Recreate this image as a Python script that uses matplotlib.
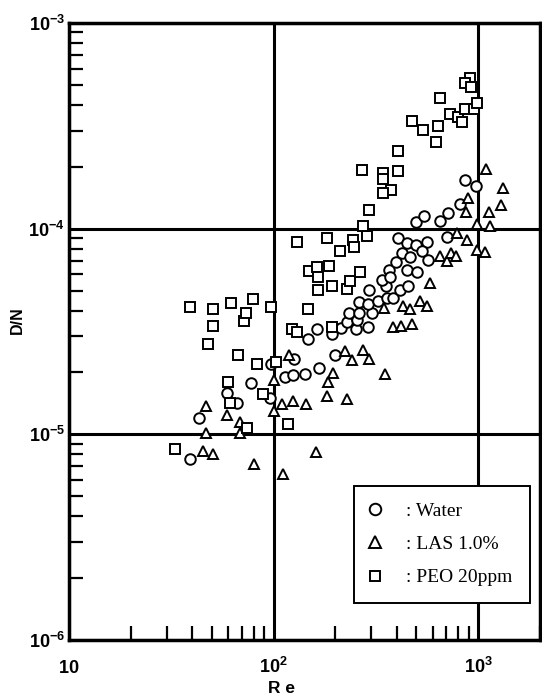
import matplotlib
matplotlib.use('Agg')
import matplotlib.pyplot as plt
from matplotlib.ticker import FixedLocator, FixedFormatter, NullFormatter, LogLocator
from matplotlib.lines import Line2D

plt.rcParams['font.family'] = ['Liberation Sans', 'DejaVu Sans']
plt.rcParams['mathtext.fontset'] = 'custom'
plt.rcParams['mathtext.rm'] = 'Liberation Sans:bold'
plt.rcParams['mathtext.bf'] = 'Liberation Sans:bold'
plt.rcParams['mathtext.it'] = 'Liberation Sans:bold'

# ---------------- data ----------------
water_re = [39.1, 43.4, 59.2, 66.3, 77.4, 96.1, 97.2, 113.8, 124.6, 126.0,
            142.6, 166.0, 199.8, 147.5, 163.2, 192.6, 212.6, 227.5, 233.9, 253.2,
            290.8, 256.9, 261.8, 302.1, 261.8, 290.8, 322.6, 357.7, 385.3, 294.1,
            352.9, 414.1, 456.2, 338.1, 365.0, 371.3, 397.2, 448.0, 503.0, 425.0,
            465.0, 407.6, 451.1, 499.1, 561.4, 530.5, 569.6, 497.4, 544.4, 652.0,
            703.0, 715.8, 816.6, 863.8, 977.7]
water_dn = [7.55e-6, 1.20e-5, 1.585e-5, 1.416e-5, 1.77e-5, 1.498e-5, 2.19e-5, 1.90e-5, 1.945e-5, 2.32e-5,
            1.966e-5, 2.10e-5, 2.43e-5, 2.92e-5, 3.24e-5, 3.08e-5, 3.28e-5, 3.50e-5, 3.91e-5, 3.24e-5,
            3.32e-5, 3.60e-5, 3.90e-5, 3.90e-5, 4.42e-5, 4.28e-5, 4.45e-5, 4.59e-5, 4.59e-5, 5.06e-5,
            5.25e-5, 5.04e-5, 5.24e-5, 5.63e-5, 6.30e-5, 5.80e-5, 6.85e-5, 6.28e-5, 6.18e-5, 7.62e-5,
            7.31e-5, 8.98e-5, 8.52e-5, 8.33e-5, 8.64e-5, 7.79e-5, 7.05e-5, 1.081e-4, 1.152e-4, 1.094e-4,
            9.14e-5, 1.196e-4, 1.318e-4, 1.724e-4, 1.613e-4]

las_re = [45.4, 50.8, 46.8, 46.8, 59.0, 68.8, 68.3, 80.3, 110.9, 100.0,
          100.6, 109.7, 118.4, 124.1, 144.7, 161.4, 182.0, 228.0, 185.3, 194.8,
          223.7, 242.0, 274.0, 294.1, 351.0, 347.0, 382.7, 418.8, 474.0, 428.4,
          465.0, 520.5, 561.4, 582.6, 652.0, 703.0, 733.8, 780.4, 786.6, 886.6,
          985.4, 1082, 873.6, 896.6, 985.4, 1145, 1136, 1296, 1330, 1094]
las_dn = [8.30e-6, 8.00e-6, 1.016e-5, 1.367e-5, 1.243e-5, 1.142e-5, 1.019e-5, 7.18e-6, 6.42e-6, 1.30e-5,
          1.838e-5, 1.397e-5, 2.43e-5, 1.453e-5, 1.397e-5, 8.24e-6, 1.528e-5, 1.486e-5, 1.788e-5, 1.977e-5,
          2.54e-5, 2.30e-5, 2.57e-5, 2.33e-5, 1.966e-5, 4.10e-5, 3.32e-5, 3.37e-5, 3.44e-5, 4.21e-5,
          4.06e-5, 4.47e-5, 4.21e-5, 5.43e-5, 7.37e-5, 6.97e-5, 7.62e-5, 7.37e-5, 9.56e-5, 8.81e-5,
          7.88e-5, 7.70e-5, 1.209e-4, 1.402e-4, 1.054e-4, 1.031e-4, 1.206e-4, 1.303e-4, 1.582e-4, 1.945e-4]

peo_re = [33.0, 74.2, 118.1, 61.6, 59.9, 88.9, 67.4, 82.8, 102.3, 47.8,
          50.6, 71.7, 73.4, 39.1, 50.6, 62.3, 79.1, 96.7, 122.5, 129.6,
          146.7, 192.6, 129.6, 183.3, 211.4, 149.7, 163.8, 187.5, 164.2, 164.2,
          193.3, 228.0, 236.6, 264.8, 245.6, 247.5, 285.0, 294.1, 273.1, 270.0,
          344.3, 344.3, 374.2, 342.0, 407.6, 407.6, 473.0, 536.5, 639.6, 619.7,
          652.0, 729.6, 801.0, 832.3, 863.8, 955.8, 988.8, 913.8, 863.8, 921.0]
peo_dn = [8.46e-6, 1.070e-5, 1.119e-5, 1.426e-5, 1.788e-5, 1.577e-5, 2.43e-5, 2.19e-5, 2.25e-5, 2.74e-5,
          3.37e-5, 3.56e-5, 3.89e-5, 4.15e-5, 4.06e-5, 4.37e-5, 4.57e-5, 4.16e-5, 3.24e-5, 3.15e-5,
          4.08e-5, 3.33e-5, 8.64e-5, 8.98e-5, 7.82e-5, 6.23e-5, 6.49e-5, 6.62e-5, 5.82e-5, 5.06e-5,
          5.26e-5, 5.07e-5, 5.59e-5, 6.18e-5, 8.78e-5, 8.19e-5, 9.21e-5, 1.226e-4, 1.036e-4, 1.930e-4,
          1.858e-4, 1.738e-4, 1.542e-4, 1.486e-4, 2.39e-4, 1.908e-4, 3.34e-4, 3.02e-4, 3.14e-4, 2.65e-4,
          4.30e-4, 3.61e-4, 3.48e-4, 3.31e-4, 3.81e-4, 3.81e-4, 4.08e-4, 5.38e-4, 5.13e-4, 4.87e-4]

x_ticks = [10, 100, 1000]
x_ticklabels = [r'$\mathbf{10}$', r'$\mathbf{10^{2}}$', r'$\mathbf{10^{3}}$']
y_ticks = [1e-6, 1e-5, 1e-4, 1e-3]
y_ticklabels = [r'$\mathbf{10^{-6}}$', r'$\mathbf{10^{-5}}$', r'$\mathbf{10^{-4}}$', r'$\mathbf{10^{-3}}$']
legend_labels = [': Water', ': LAS 1.0%', ': PEO 20ppm']

# ---------------- figure ----------------
fig = plt.figure(figsize=(5.42, 6.99), dpi=100)
ax = fig.add_axes([0.1273, 0.0844, 0.8683, 0.8827])
ax.set_xscale('log')
ax.set_yscale('log')
ax.set_xlim(10, 2000)
ax.set_ylim(1e-6, 1e-3)

ax.xaxis.set_major_locator(FixedLocator(x_ticks))
ax.xaxis.set_major_formatter(FixedFormatter(x_ticklabels))
ax.yaxis.set_major_locator(FixedLocator(y_ticks))
ax.yaxis.set_major_formatter(FixedFormatter(y_ticklabels))
ax.xaxis.set_minor_locator(LogLocator(base=10, subs=range(2, 10)))
ax.yaxis.set_minor_locator(LogLocator(base=10, subs=range(2, 10)))
ax.xaxis.set_minor_formatter(NullFormatter())
ax.yaxis.set_minor_formatter(NullFormatter())

ax.grid(True, which='major', color='black', linewidth=2.2, zorder=1)
ax.set_axisbelow(True)

ax.tick_params(which='both', direction='in', top=False, right=False, colors='black')
ax.tick_params(which='major', length=12, width=2)
ax.tick_params(which='minor', length=10, width=1.6)
ax.tick_params(axis='x', which='major', pad=24, labelsize=13)
ax.tick_params(axis='y', which='major', pad=3, labelsize=13)
for lab in ax.get_xticklabels():
    lab.set_verticalalignment('baseline')

for s in ax.spines.values():
    s.set_linewidth(2.5)
    s.set_color('black')

mk = dict(linestyle='none', markerfacecolor='white', markeredgecolor='black',
          markeredgewidth=1.4, zorder=3)
ax.plot(water_re, water_dn, marker='o', markersize=7.6, **mk)
ax.plot(las_re, las_dn, marker='^', markersize=6.6, **mk)
ax.plot(peo_re, peo_dn, marker='s', markersize=6.6, **mk)

handles = [Line2D([], [], marker='o', markersize=8.3, **mk),
           Line2D([], [], marker='^', markersize=8.6, **mk),
           Line2D([], [], marker='s', markersize=7.8, **mk)]
leg = ax.legend(handles, legend_labels, loc='lower left',
                bbox_to_anchor=(0.6056, 0.06, 0.374, 0.2), mode='expand',
                prop={'family': ['Liberation Serif', 'DejaVu Serif'], 'size': 14},
                frameon=True, fancybox=False, framealpha=1, edgecolor='black',
                borderpad=0.85, labelspacing=0.8, handlelength=0.5, handletextpad=1.3,
                borderaxespad=0)
leg.get_frame().set_linewidth(1.4)
leg.set_zorder(5)

ax.set_xlabel('R e', fontsize=12.5, fontweight='bold')
ax.xaxis.set_label_coords(0.4526, -0.0665)
ax.set_ylabel('D/N', fontsize=11.5, fontweight='bold')
ax.yaxis.set_label_coords(-0.094, 0.5186)

fig.savefig('out.png', dpi=100)
